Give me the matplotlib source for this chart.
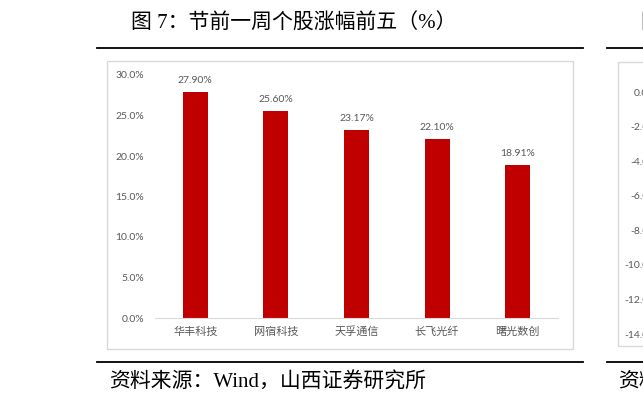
import matplotlib
matplotlib.use("Agg")
import matplotlib.pyplot as plt
from matplotlib.patches import Rectangle
from matplotlib.lines import Line2D
from matplotlib.ticker import FuncFormatter

# data
stocks = ['华丰科技', '网宿科技', '天孚通信', '长飞光纤', '曙光数创']
gains = [27.90, 25.60, 23.17, 22.10, 18.91]
y_ticks = [0, 5, 10, 15, 20, 25, 30]
# neighbouring chart (cut off at the right edge)
right_ticks = [0, -2, -4, -6, -8, -10, -12, -14]

title = '图 7：节前一周个股涨幅前五（%）'
source = '资料来源：Wind，山西证券研究所'

W, H = 643, 409
RED = '#C00000'
GREY = '#595959'
EDGE = '#D9D9D9'
CJK = 'Noto Sans CJK SC'
SERIF_MIX = ['Liberation Serif', CJK]
NUM_FONT = ['Lato', CJK]


def fx(px):
    return px / W


def fy(py):
    return 1 - py / H


fig = plt.figure(figsize=(W / 100, H / 100), dpi=100)

# headings, rules and frames around the two panels
fig.text(fx(131), fy(24), title, fontsize=15, family=SERIF_MIX, va='center', ha='left')
fig.text(fx(641), fy(24), '图 8：', fontsize=15, family=SERIF_MIX, va='center', ha='left')
fig.text(fx(109), fy(383), source, fontsize=15, family=SERIF_MIX, va='center', ha='left')
fig.text(fx(618), fy(383), source, fontsize=15, family=SERIF_MIX, va='center', ha='left')

for x0, x1 in [(97, 583), (607, 700)]:
    for yy in (48, 362):
        fig.add_artist(Line2D([fx(x0), fx(x1)], [fy(yy), fy(yy)], color='black', lw=1.3,
                              transform=fig.transFigure))

fig.add_artist(Rectangle((fx(107), fy(349)), fx(573) - fx(107), fy(61) - fy(349),
                         transform=fig.transFigure, fill=False, ec=EDGE, lw=1))
fig.add_artist(Rectangle((fx(618), fy(346)), fx(720) - fx(618), fy(62) - fy(346),
                         transform=fig.transFigure, fill=False, ec=EDGE, lw=1))

# main bar chart
ax = fig.add_axes([fx(155), fy(318), fx(558) - fx(155), fy(75) - fy(318)])
x = range(len(stocks))
ax.bar(x, gains, width=0.31, color=RED, zorder=2)
for i, v in enumerate(gains):
    ax.annotate(f'{v:.2f}%', (i, v), xytext=(0, 5), textcoords='offset points',
                ha='center', va='bottom', fontsize=7.5, color=GREY, family=NUM_FONT)

ax.set_xlim(-0.5, len(stocks) - 0.5)
ax.set_ylim(0, 30)
ax.set_yticks(y_ticks)
ax.yaxis.set_major_formatter(FuncFormatter(lambda v, p: f'{v:.1f}%'))
ax.set_xticks(list(x))
ax.set_xticklabels(stocks, family=CJK, fontsize=8, color=GREY)
for lab in ax.get_yticklabels():
    lab.set_family(NUM_FONT)
    lab.set_fontsize(7.5)
    lab.set_color(GREY)
ax.tick_params(axis='y', length=0, pad=8)
ax.tick_params(axis='x', length=0, pad=6)
for side in ('left', 'right', 'top'):
    ax.spines[side].set_visible(False)
ax.spines['bottom'].set_color(EDGE)
ax.patch.set_visible(False)

# right neighbour: only its y labels show inside the frame
ax2 = fig.add_axes([fx(669), fy(334), 0.5, fy(92) - fy(334)])
ax2.set_ylim(-14, 0)
ax2.set_yticks(right_ticks)
ax2.yaxis.set_major_formatter(FuncFormatter(lambda v, p: f'{v:.1f}%'))
for lab in ax2.get_yticklabels():
    lab.set_family(NUM_FONT)
    lab.set_fontsize(7.5)
    lab.set_color(GREY)
ax2.tick_params(axis='y', length=0, pad=9)
ax2.set_xticks([])
for side in ax2.spines:
    ax2.spines[side].set_visible(False)
ax2.patch.set_visible(False)

fig.savefig('out.png', dpi=100)
